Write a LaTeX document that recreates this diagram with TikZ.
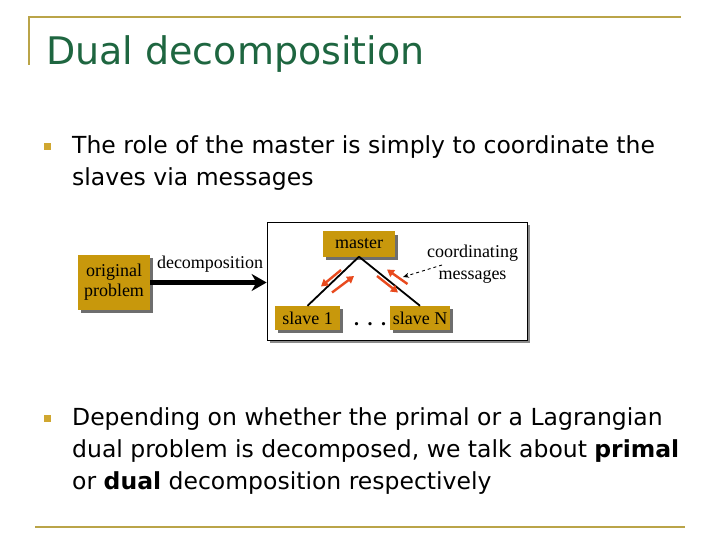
\documentclass[tikz,border=0pt]{standalone}
\usepackage{fontspec}
\setmainfont{Liberation Serif}
\newfontfamily\slidefont{DejaVu Sans}
\usetikzlibrary{arrows.meta,positioning,calc,shadows}
\definecolor{ddgold}{RGB}{200,152,12}
\definecolor{ddrule}{RGB}{186,164,72}
\definecolor{ddgreen}{HTML}{1E6640}
\definecolor{ddred}{HTML}{E84A1E}
\definecolor{ddshadow}{HTML}{6E6E6E}

\begin{document}
\begin{tikzpicture}[x=1pt, y=-1pt,
  rulestyle/.style={ddrule, line width=2pt},
  bullet/.style={fill=ddgold!85, inner sep=0pt, minimum size=7pt},
  bodytxt/.style={font=\slidefont\fontsize{23.5}{32}\selectfont, align=left,
                  inner sep=0pt, anchor=north west},
  box/.style={fill=ddgold, inner sep=0pt, align=center,
              font=\fontsize{18}{20}\selectfont,
              general shadow={fill=ddshadow, shadow xshift=3pt, shadow yshift=-3pt}},
  lbl/.style={font=\fontsize{18}{22}\selectfont, align=center, inner sep=0pt},
  link/.style={line width=1.8pt, black},
  msg/.style={-{Triangle[length=7pt, width=8pt]}, ddred, line width=2.4pt},
]
\useasboundingbox (0,0) rectangle (720,540);

%% ---- title and rules ----
\draw[rulestyle] (29,65) -- (29,17) -- (681,17);
\draw[rulestyle] (35,527) -- (685,527);
\node[font=\slidefont\fontsize{38}{40}\selectfont, text=ddgreen, anchor=base west,
      inner sep=0pt] (title) at (46,65) {Dual decomposition};

%% ---- bullets ----
\node[bullet] (b1) at (47.5,147) {};
\node[bodytxt] (txt1) at (72,135.5)
  {The role of the master is simply to coordinate the\\slaves via messages};
\node[bullet] (b2) at (47.5,418) {};
\node[bodytxt] (txt2) at (72,407.5)
  {Depending on whether the primal or a Lagrangian\\
   dual problem is decomposed,  we talk about \textbf{primal}\\
   or \textbf{dual} decomposition respectively};

%% ---- frame around master / slaves ----
\node[draw=black, line width=0.8pt, fill=white, minimum width=260pt, minimum height=118pt,
      general shadow={fill=ddshadow!80, shadow xshift=3pt, shadow yshift=-3pt}]
  (frame) at (397,281) {};

%% ---- original problem ----
\node[box, minimum width=72pt, minimum height=55pt] (orig) at (114,282.5)
  {original\\problem};
\draw[-{Stealth[length=15pt, width=17pt]}, line width=5pt]
  (orig.east) -- (orig.east -| frame.west);
\node[lbl] (declbl) at (210,264) {decomposition};

%% ---- master and slaves ----
\node[box, minimum width=72pt, minimum height=25pt] (master) at (359,244) {master};
\node[box, minimum width=65pt, minimum height=24pt] (s1) at (307.5,318) {slave 1};
\node[box, minimum width=60pt, minimum height=24pt] (sN) at (420,318) {slave N};
\node[font=\bfseries\fontsize{20}{20}\selectfont, inner sep=0pt, anchor=base]
  (dots) at (370,325) {.\hspace{8.5pt}.\hspace{8.5pt}.};

\draw[link] (master.south) -- (s1.north);
\draw[link] (master.south) -- (sN.north);

% messages going both ways along each link
\draw[msg] (341,270) -- (321,286.5);
\draw[msg] (332,292.5) -- (354,276);
\draw[msg] (407.5,284) -- (387,269.5);
\draw[msg] (377,276) -- (398,292.5);

%% ---- coordinating messages note ----
\node[lbl] (coordlbl) at (472.5,264) {coordinating\\messages};
\coordinate (msgtail) at (442,265);
\coordinate (msgtip) at (403,277);
\draw[-{Stealth[length=6pt, width=5pt]}, dashed, line width=0.9pt]
  (msgtail) -- (msgtip);

\end{tikzpicture}
\end{document}
